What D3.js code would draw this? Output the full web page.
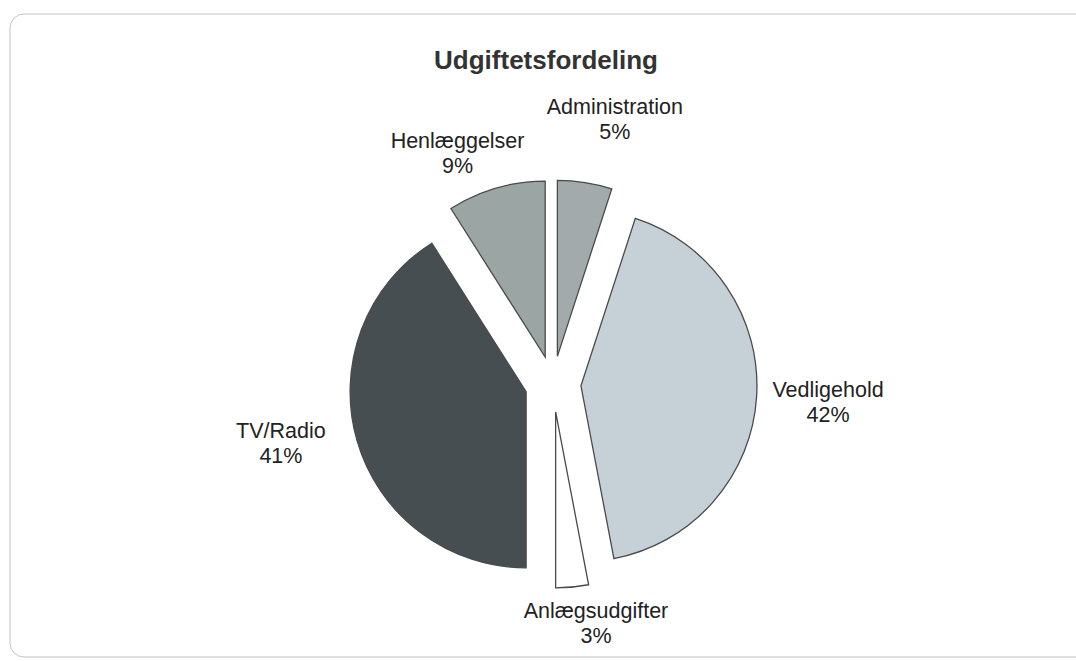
<!DOCTYPE html>
<html>
<head>
<meta charset="utf-8">
<script src="https://cdn.jsdelivr.net/npm/d3@7"></script>
<style>
  body { margin: 0; background: #fff; }
  text { font-family: "Liberation Sans", Arial, sans-serif; fill: #222; }
</style>
</head>
<body>
<div id="chart"></div>
<script>
// data (clockwise from 12 o'clock)
const categories = ["Administration", "Vedligehold", "Anlægsudgifter", "TV/Radio", "Henlæggelser"];
const shares = [5, 42, 3, 41, 9];
const colors = ["#a3aaab", "#c6d1d7", "#ffffff", "#474e51", "#9ba6a4"];
const title = "Udgiftetsfordeling";

// labels were dragged a little in the original, so nudge them the same way
const labelNudge = [[16, -16], [-5, 4], [15, -8], [-13, -9], [-14, 11]];

const W = 1076, H = 661;
const cx = 553, cy = 384;
const radius = 176, explode = 28;

const svg = d3.select("#chart").append("svg")
  .attr("width", W)
  .attr("height", H);

// faint frame of the scanned chart area
svg.append("rect")
  .attr("x", 10).attr("y", 14)
  .attr("width", 1090).attr("height", 643)
  .attr("rx", 14)
  .attr("fill", "none")
  .attr("stroke", "#c4c4c4");

svg.append("text")
  .attr("x", 546).attr("y", 69)
  .attr("text-anchor", "middle")
  .style("font-size", "26px")
  .style("font-weight", "bold")
  .style("fill", "#333")
  .text(title);

const data = categories.map((c, i) => ({ name: c, value: shares[i], color: colors[i], nudge: labelNudge[i] }));

const pie = d3.pie().value(d => d.value).sort(null);
const arcs = pie(data);
const arc = d3.arc().innerRadius(0).outerRadius(radius);

const g = svg.append("g").attr("transform", "translate(" + cx + "," + cy + ")");

// unit vector along the bisector of a slice
function dir(d) {
  const a = (d.startAngle + d.endAngle) / 2;
  return [Math.sin(a), -Math.cos(a)];
}

g.selectAll("path")
  .data(arcs)
  .enter()
  .append("path")
    .attr("d", arc)
    .attr("transform", d => {
      const u = dir(d);
      return "translate(" + (u[0] * explode) + "," + (u[1] * explode) + ")";
    })
    .attr("fill", d => d.data.color)
    .attr("stroke", "#4a4a4a")
    .attr("stroke-width", 1.3)
    .attr("stroke-linejoin", "miter");

// labels: nearest edge of the text box sits on a circle round the pie
const labelR = 225, lineH = 25, fontSize = 21.5;
const labels = g.selectAll("g.label")
  .data(arcs)
  .enter()
  .append("g")
    .attr("class", "label");

labels.each(function(d) {
  const el = d3.select(this);
  const t1 = el.append("text")
    .attr("text-anchor", "middle")
    .style("font-size", fontSize + "px")
    .text(d.data.name);
  el.append("text")
    .attr("text-anchor", "middle")
    .attr("y", lineH)
    .style("font-size", fontSize + "px")
    .text(d.data.value + "%");
  const w = t1.node().getComputedTextLength();
  const h = lineH * 2;
  const u = dir(d);
  const bx = u[0] * labelR + u[0] * w / 2 + d.data.nudge[0];
  const by = u[1] * labelR + u[1] * h / 2 + d.data.nudge[1];
  el.attr("transform", "translate(" + bx + "," + (by - h / 2 + 18) + ")");
});
</script>
</body>
</html>
